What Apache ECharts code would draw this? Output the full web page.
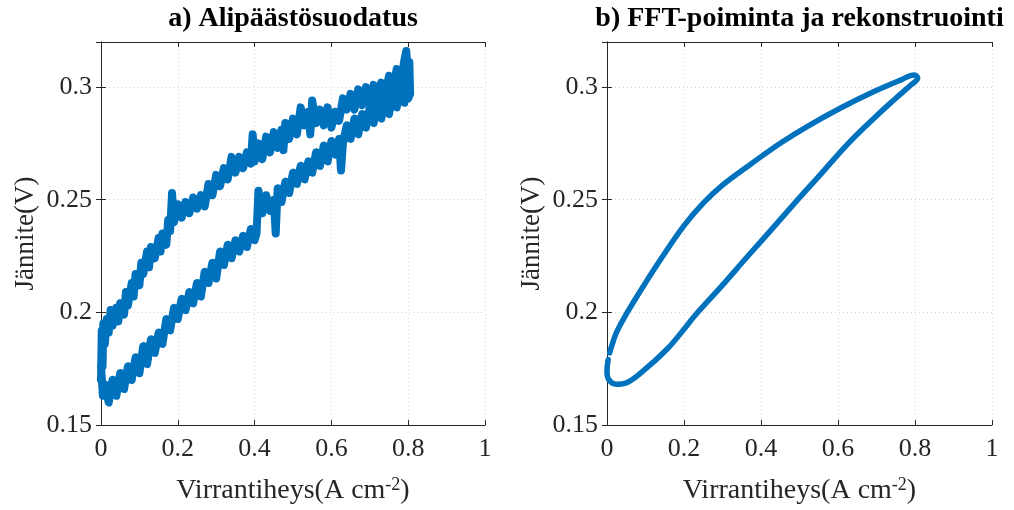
<!DOCTYPE html>
<html>
<head>
<meta charset="utf-8">
<style>
  html, body { margin: 0; padding: 0; background: #fff; }
  #main { width: 1014px; height: 510px; }
</style>
<script src="https://cdn.jsdelivr.net/npm/echarts@6/dist/echarts.min.js"></script>
</head>
<body>
<div id="main"></div>
<script>
// a) suodatettu mittaus: ylähaara (virta kasvaa) ja alahaara (virta pienenee)
var leftUpper = [
  [0.000,0.170],[0.002,0.192],[0.004,0.176],[0.006,0.195],[0.010,0.186],[0.015,0.197],
  [0.020,0.191],[0.025,0.201],[0.030,0.194],[0.040,0.202],[0.045,0.196],[0.050,0.204],
  [0.060,0.199],[0.065,0.209],[0.070,0.203],[0.080,0.213],[0.085,0.207],[0.090,0.217],
  [0.100,0.212],[0.105,0.222],[0.110,0.217],[0.120,0.227],[0.125,0.220],[0.130,0.229],
  [0.140,0.224],[0.150,0.233],[0.155,0.227],[0.160,0.235],[0.170,0.230],[0.175,0.241],
  [0.180,0.236],[0.185,0.253],[0.190,0.240],[0.200,0.248],[0.210,0.242],[0.220,0.249],
  [0.230,0.244],[0.240,0.251],[0.250,0.246],[0.260,0.252],[0.270,0.247],[0.280,0.257],
  [0.290,0.252],[0.300,0.261],[0.310,0.256],[0.320,0.264],[0.330,0.259],[0.340,0.269],
  [0.350,0.262],[0.360,0.269],[0.370,0.264],[0.380,0.271],[0.390,0.266],[0.395,0.279],
  [0.400,0.267],[0.410,0.275],[0.420,0.268],[0.430,0.278],[0.440,0.271],[0.450,0.280],
  [0.460,0.273],[0.470,0.281],[0.475,0.272],[0.480,0.284],[0.490,0.277],[0.500,0.286],
  [0.510,0.279],[0.520,0.291],[0.530,0.283],[0.540,0.289],[0.545,0.279],[0.550,0.294],
  [0.560,0.284],[0.570,0.290],[0.580,0.283],[0.590,0.291],[0.600,0.282],[0.610,0.289],
  [0.620,0.285],[0.630,0.295],[0.640,0.290],[0.650,0.297],[0.660,0.290],[0.670,0.299],
  [0.680,0.292],[0.690,0.300],[0.700,0.293],[0.710,0.301],[0.720,0.295],[0.730,0.302],
  [0.740,0.296],[0.750,0.305],[0.760,0.298],[0.770,0.308],[0.780,0.301],[0.790,0.312],
  [0.795,0.316],[0.800,0.304],[0.803,0.311],[0.805,0.297]
];
var leftLower = [
  [0.800,0.295],[0.795,0.303],[0.790,0.293],[0.780,0.299],[0.770,0.291],[0.760,0.297],
  [0.750,0.288],[0.740,0.295],[0.730,0.286],[0.720,0.293],[0.710,0.284],[0.700,0.291],
  [0.690,0.282],[0.680,0.288],[0.670,0.279],[0.660,0.286],[0.650,0.277],[0.640,0.283],
  [0.630,0.275],[0.625,0.263],[0.620,0.277],[0.610,0.270],[0.600,0.276],[0.590,0.267],
  [0.580,0.274],[0.570,0.265],[0.560,0.271],[0.550,0.262],[0.540,0.267],[0.530,0.259],
  [0.520,0.265],[0.510,0.257],[0.500,0.262],[0.490,0.253],[0.480,0.258],[0.470,0.249],
  [0.460,0.255],[0.455,0.235],[0.450,0.250],[0.440,0.245],[0.430,0.252],[0.420,0.244],
  [0.410,0.254],[0.405,0.235],[0.400,0.232],[0.390,0.237],[0.380,0.229],[0.370,0.234],
  [0.360,0.227],[0.350,0.232],[0.340,0.224],[0.330,0.230],[0.320,0.221],[0.310,0.227],
  [0.300,0.215],[0.290,0.222],[0.280,0.213],[0.270,0.218],[0.260,0.207],[0.250,0.213],
  [0.240,0.204],[0.230,0.209],[0.220,0.201],[0.210,0.206],[0.200,0.197],[0.190,0.202],
  [0.180,0.192],[0.170,0.197],[0.160,0.186],[0.150,0.191],[0.140,0.182],[0.130,0.188],
  [0.120,0.177],[0.110,0.185],[0.100,0.173],[0.090,0.180],[0.080,0.170],[0.070,0.176],
  [0.060,0.166],[0.050,0.173],[0.040,0.163],[0.030,0.170],[0.020,0.160],[0.010,0.168],
  [0.005,0.163],[0.000,0.176]
];
// b) FFT-rekonstruktio
var rightUpper = [
  [0.007,0.1820],[0.012,0.1850],[0.025,0.1912],[0.051,0.1995],[0.094,0.2115],[0.146,0.2252],
  [0.200,0.2385],[0.250,0.2485],[0.300,0.2565],[0.375,0.2660],[0.453,0.2754],[0.522,0.2827],
  [0.608,0.2908],[0.695,0.2981],[0.764,0.3032],[0.798,0.3054],[0.807,0.3040]
];
var rightLower = [
  [0.790,0.3010],[0.746,0.2944],[0.695,0.2864],[0.625,0.2747],[0.556,0.2615],[0.487,0.2484],
  [0.427,0.2367],[0.366,0.2250],[0.297,0.2115],[0.228,0.1985],[0.200,0.1925],[0.155,0.1835],
  [0.094,0.1740],[0.051,0.1688],[0.025,0.1681],[0.004,0.1703],[0.000,0.1740],[0.003,0.1790]
];
var titles = ['a) Alipäästösuodatus', 'b) FFT-poiminta ja rekonstruointi'];
var xName = 'Virrantiheys(A cm{sup|-2})';
var yName = 'Jännite(V)';

var myChart = echarts.init(document.getElementById('main'));
var font = 'Liberation Serif';
var axisCol = '#262626';
var lineCol = '#0072BD';

function xAxes(gi) {
    var base = {
        type: 'value', gridIndex: gi, min: 0, max: 1, interval: 0.2,
        axisLine: { show: true, lineStyle: { color: axisCol, width: 1 } },
        axisTick: { show: true, inside: true, length: 5, lineStyle: { color: axisCol } }
    };
    return [
        Object.assign({}, base, {
            position: 'bottom',
            axisLabel: { color: axisCol, fontFamily: font, fontSize: 26, margin: 11 },
            splitLine: { show: true, lineStyle: { color: '#d4d4d4', type: [1, 3] } },
            name: xName, nameLocation: 'middle', nameGap: 51,
            nameTextStyle: {
                color: axisCol, fontFamily: font, fontSize: 28,
                rich: { sup: { fontFamily: font, fontSize: 18, verticalAlign: 'top', color: axisCol, padding: [0, 0, 12, 0] } }
            }
        }),
        Object.assign({}, base, {
            position: 'top',
            axisLabel: { show: false },
            splitLine: { show: false },
            name: titles[gi], nameLocation: 'middle', nameGap: 9,
            nameTextStyle: { color: '#000', fontFamily: font, fontSize: 28, fontWeight: 'bold' }
        })
    ];
}

function yAxes(gi) {
    var base = {
        type: 'value', gridIndex: gi, min: 0.15, max: 0.32, interval: 0.05,
        axisLine: { show: true, lineStyle: { color: axisCol, width: 1 } },
        axisTick: { show: true, inside: true, length: 5, lineStyle: { color: axisCol } }
    };
    return [
        Object.assign({}, base, {
            position: 'left',
            axisLabel: { color: axisCol, fontFamily: font, fontSize: 26, margin: 9, showMaxLabel: false },
            splitLine: { show: true, lineStyle: { color: '#d4d4d4', type: [1, 3] } },
            name: yName, nameLocation: 'middle', nameGap: 62,
            nameTextStyle: { color: axisCol, fontFamily: font, fontSize: 27 }
        }),
        Object.assign({}, base, {
            position: 'right',
            axisLabel: { show: false },
            splitLine: { show: false }
        })
    ];
}

option = {
    backgroundColor: '#fff',
    animation: false,
    grid: [
        { left: 101, top: 40, width: 384, height: 388 },
        { left: 607, top: 40, width: 385, height: 388 }
    ],
    xAxis: xAxes(0).concat(xAxes(1)),
    yAxis: yAxes(0).concat(yAxes(1)),
    series: [
        {
            type: 'line', xAxisIndex: 0, yAxisIndex: 0,
            data: leftUpper.concat(leftLower),
            symbol: 'none', smooth: false,
            lineStyle: { color: lineCol, width: 8, join: 'round', cap: 'round' }
        },
        {
            type: 'line', xAxisIndex: 2, yAxisIndex: 2,
            data: rightUpper.concat(rightLower),
            symbol: 'none', smooth: 0.4,
            lineStyle: { color: lineCol, width: 5.5, cap: 'round' }
        }
    ]
};
myChart.setOption(option);
window.addEventListener('resize', function () {
    myChart.resize();
});
</script>
</body>
</html>
